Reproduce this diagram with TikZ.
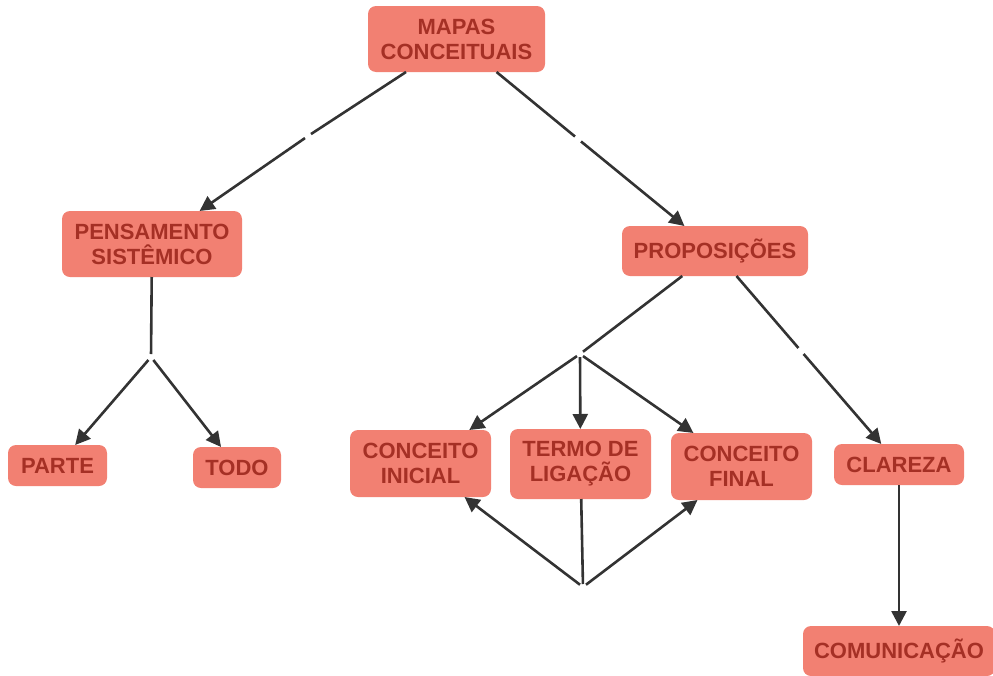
\documentclass[tikz,border=0pt]{standalone}
\usepackage{fontspec}
\setmainfont{Liberation Sans}
\usetikzlibrary{arrows.meta}
\definecolor{conceptfill}{RGB}{242,128,114}
\definecolor{concepttext}{RGB}{165,48,37}
\definecolor{linkline}{RGB}{51,51,51}
\tikzset{
  concept/.style={fill=conceptfill, rounded corners=8pt, text=concepttext,
    font=\fontsize{22}{25}\selectfont\bfseries, align=center,
    inner sep=0pt, outer sep=0pt},
  linkpt/.style={inner sep=0pt, minimum size=6pt, outer sep=0pt},
  rel/.style={draw=linkline, line width=2.6pt},
  relarrow/.style={rel, -{Triangle[length=15pt,width=15pt]}},
}
\begin{document}
\begin{tikzpicture}[x=1pt,y=-1pt]
\useasboundingbox (0,0) rectangle (993,675);
\clip (0,0) rectangle (993,675);

% concepts
\node[concept, minimum width=177pt, minimum height=66pt] (mapas) at (456.5,39) {MAPAS\\CONCEITUAIS};
\node[concept, minimum width=180pt, minimum height=66pt] (pensamento) at (152,244) {PENSAMENTO\\SISTÊMICO};
\node[concept, minimum width=186pt, minimum height=50pt] (proposicoes) at (715,251) {PROPOSIÇÕES};
\node[concept, minimum width=99pt, minimum height=41pt] (parte) at (57.5,465.5) {PARTE};
\node[concept, minimum width=88pt, minimum height=41pt] (todo) at (237,467.5) {TODO};
\node[concept, minimum width=141pt, minimum height=67pt] (inicial) at (420.5,463.5) {CONCEITO\\INICIAL};
\node[concept, minimum width=141pt, minimum height=70pt] (termo) at (580.5,464) {TERMO DE\\LIGAÇÃO};
\node[concept, minimum width=141pt, minimum height=67pt] (final) at (741.5,466.5) {CONCEITO\\FINAL};
\node[concept, minimum width=130pt, minimum height=41pt] (clareza) at (899,464.5) {CLAREZA};
\node[concept, minimum width=192pt, minimum height=50pt] (comunicacao) at (899,651) {COMUNICAÇÃO};

% empty linking phrases
\node[linkpt] (l1) at (308,136) {};
\node[linkpt] (l2) at (578,139) {};
\node[linkpt] (l3) at (151,357) {};
\node[linkpt] (l4) at (580,354) {};
\node[linkpt] (l5) at (801,351) {};
\node[linkpt] (l6) at (583,587) {};

% relations
\draw[rel] (mapas) -- (l1);
\draw[relarrow] (l1) -- (pensamento);
\draw[rel] (mapas) -- (l2);
\draw[relarrow] (l2) -- (proposicoes);

\draw[rel] (pensamento) -- (l3);
\draw[relarrow] (l3) -- (parte);
\draw[relarrow] (l3) -- (todo);

\draw[rel] (proposicoes) -- (l4);
\draw[relarrow] (l4) -- (inicial);
\draw[relarrow] (l4) -- (termo);
\draw[relarrow] (l4) -- (final);

\draw[rel] (proposicoes) -- (l5);
\draw[relarrow] (l5) -- (clareza);

\draw[rel] (termo) -- (l6);
\draw[relarrow] (l6) -- (inicial);
\draw[relarrow] (l6) -- (final);

\draw[relarrow] (clareza) -- (comunicacao);
\end{tikzpicture}
\end{document}
